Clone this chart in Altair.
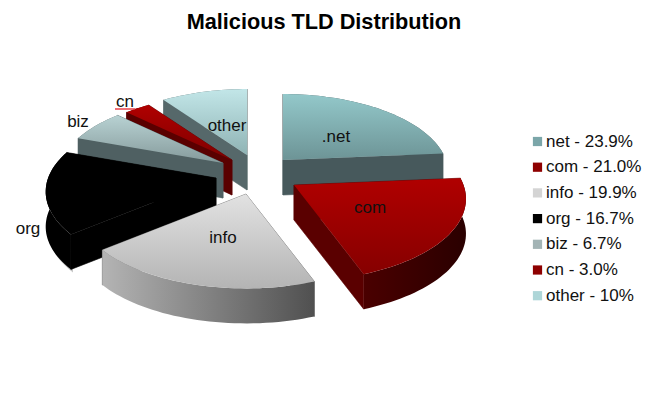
import math
import altair as alt

names = ["net", "com", "info", "org", "biz", "cn", "other"]
values = [23.9, 21.0, 19.9, 16.7, 6.7, 3.0, 10.0]
legend_labels = ["net - 23.9%", "com - 21.0%", "info - 19.9%", "org - 16.7%",
                 "biz - 6.7%", "cn - 3.0%", "other - 10%"]
legend_colors = ["#7ba6a9", "#8e0000", "#d4d4d4", "#000000", "#a3b4b5", "#8e0000", "#aed6d8"]

# slice styling / layout
apex_x = [283, 294, 246, 216, 223, 232, 247]
apex_y = [160, 185, 194, 178, 163, 160, 155]
scales = [1.0, 1.04, 1.02, 1.03, 1.0, 1.0, 1.0]
tops = [("#93c8ca", "#6d9496"), ("#b00000", "#860000"), ("#e2e2e2", "#b4b4b4"), ("#000000", "#000000"),
        ("#b8d2d3", "#859a9b"), ("#b00000", "#7e0000"), ("#c2e6e8", "#8fb3b4")]
cut_walls = ["#47595c", "#5a0000", "#6a6a6a", "#000000", "#4f6062", "#5a0000", "#56686a"]
arc_walls = [("#47595c", "#47595c"), ("#4a0000", "#2a0000"), ("#b4b4b4", "#505050"), ("#000000", "#000000"),
             ("#4f6062", "#4f6062"), ("#5a0000", "#5a0000"), ("#56686a", "#56686a")]
draw_order = ["other", "cn", "biz", "org", "net", "info", "com"]

label_text = [".net", "com", "info", "org", "biz", "cn", "other"]
label_x = [336, 370, 223, 28, 78, 125, 227]
label_y = [137, 208, 238, 229, 122, 102, 126]

A, B, K, DEPTH = 163.0, 77.0, 0.168, 35.0
MX, MY = 8, 8
PROJ = alt.Projection(type="identity", scale=1, translate=[0, 0])


def project(t, s):
    x, y = math.sin(t), math.cos(t)
    w = 1 + K * y
    return (s * A * x / w, -s * B * y / w)


def vgrad(c0, c1):
    return alt.Gradient(gradient="linear", x1=0, x2=0, y1=0, y2=1,
                        stops=[alt.GradientStop(color=c0, offset=0), alt.GradientStop(color=c1, offset=1)])


def hgrad(c0, c1):
    return alt.Gradient(gradient="linear", x1=0, x2=1, y1=0, y2=0,
                        stops=[alt.GradientStop(color=c0, offset=0), alt.GradientStop(color=c1, offset=1)])


def poly(points, fill, stroke=None):
    ring = [[round(p[0], 2), round(p[1], 2)] for p in points]
    ring.append(ring[0])
    feat = {"type": "Feature", "properties": {}, "geometry": {"type": "Polygon", "coordinates": [ring]}}
    style = {"stroke": stroke, "strokeWidth": 0.6} if stroke else {"strokeWidth": 0}
    return alt.Chart(alt.Data(values=[feat])).mark_geoshape(fill=fill, **style).project(**PROJ.to_dict())


total = sum(values)
starts, acc = [], 0.0
for v in values:
    starts.append(acc)
    acc += v

layers = []
for name in draw_order:
    i = names.index(name)
    t0 = starts[i] / total * 2 * math.pi
    t1 = (starts[i] + values[i]) / total * 2 * math.pi
    n = max(6, int(values[i] * 2))
    ax, ay = apex_x[i] - MX, apex_y[i] - MY
    arc = []
    for k in range(n + 1):
        dx, dy = project(t0 + (t1 - t0) * k / n, scales[i])
        arc.append((ax + dx, ay + dy))
    apex = (ax, ay)
    down = lambda p: (p[0], p[1] + DEPTH)
    if name == "org":
        # faint grey shadow along the black slice's outer edge
        shadow = [(p[0] + 2, p[1] + 3) for p in arc]
        layers.append(poly(shadow + [down(p) for p in reversed(shadow)], "#c4c4c4"))
    walls = [
        ([apex, arc[0], down(arc[0]), down(apex)], cut_walls[i], cut_walls[i]),
        ([apex, arc[-1], down(arc[-1]), down(apex)], cut_walls[i], cut_walls[i]),
        (arc + [down(p) for p in reversed(arc)], hgrad(*arc_walls[i]), None),
    ]
    walls.sort(key=lambda w: sum(p[1] for p in w[0]) / len(w[0]))
    for pts, fill, stroke in walls:
        layers.append(poly(pts, fill, stroke))
    layers.append(poly([apex] + arc, vgrad(*tops[i])))

# slice labels
label_data = [{"t": t, "x": x - MX, "y": y - MY} for t, x, y in zip(label_text, label_x, label_y)]
for row in label_data:
    layers.append(alt.Chart(alt.Data(values=[row])).mark_text(
        font="Liberation Sans", fontSize=17, color="#111111", align="center", baseline="middle"
    ).encode(x=alt.value(row["x"]), y=alt.value(row["y"]), text="t:N"))

# spell-check underline under "cn"
layers.append(alt.Chart(alt.Data(values=[{"a": 1}])).mark_rule(color="#e8404a", strokeWidth=1.5).encode(
    x=alt.value(115 - MX), x2=alt.value(135 - MX), y=alt.value(109 - MY)))

# legend carrier
legend_layer = alt.Chart(alt.Data(values=[{"label": l} for l in legend_labels])).mark_point(
    opacity=0, size=1, filled=True
).encode(
    x=alt.value(-20), y=alt.value(-20),
    color=alt.Color("label:N", scale=alt.Scale(domain=legend_labels, range=legend_colors), legend=alt.Legend(
        title=None, orient="none", legendX=521, legendY=125, symbolType="square", symbolSize=85,
        symbolOpacity=1, symbolStrokeWidth=0, labelFont="Liberation Sans", labelFontSize=17, labelColor="#111111",
        rowPadding=7.7, labelOffset=0, labelLimit=140, padding=0)),
)
layers.append(legend_layer)

chart = alt.layer(*layers).properties(
    width=635, height=385, padding=0,
    autosize=alt.AutoSizeParams(type="none"),
    background="white",
    title=alt.TitleParams("Malicious TLD Distribution", font="Liberation Sans", fontSize=21.7, fontWeight="bold",
                          color="#000000", anchor="middle", offset=-46, dx=-1.5),
).configure_view(stroke=None)

chart.save("out.html", embed_options={"renderer": "svg", "actions": False})
